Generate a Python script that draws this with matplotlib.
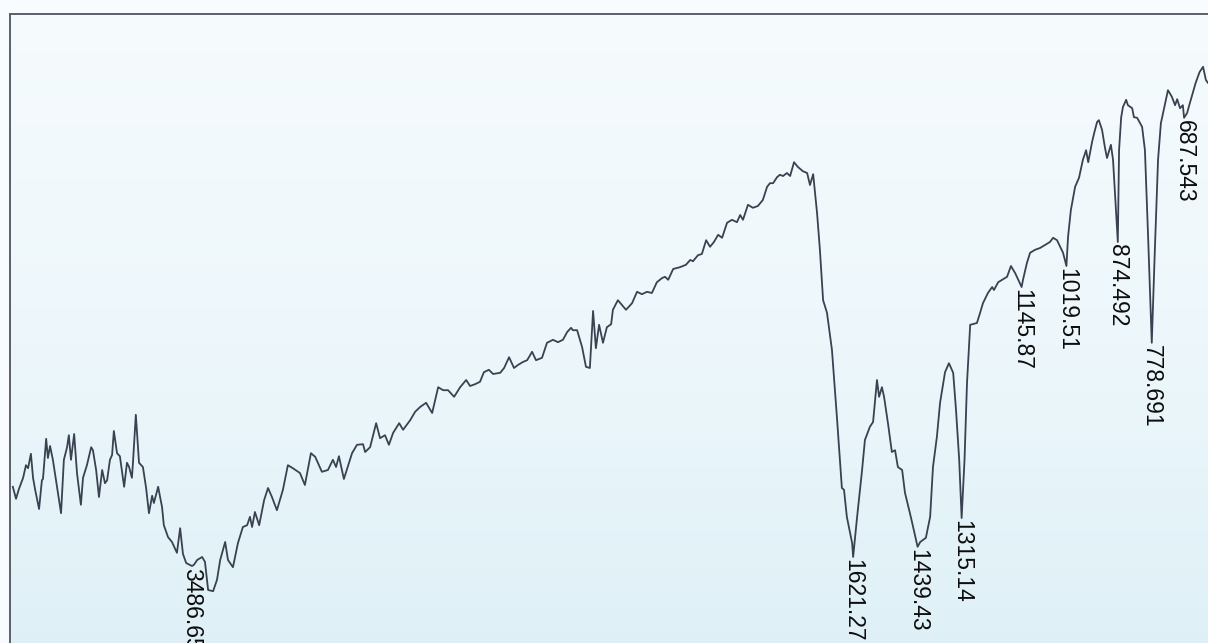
import numpy as np
import matplotlib
matplotlib.use('Agg')
import matplotlib.pyplot as plt
from matplotlib.colors import LinearSegmentedColormap

# IR spectrum: wavenumber (cm-1) and transmittance (%)
wavenumber = [
    3992, 3983, 3975, 3963, 3955, 3949, 3941, 3935, 3929, 3918, 3910, 3907,
    3898, 3893, 3887, 3879, 3867, 3856, 3848, 3839, 3834, 3828, 3819, 3811,
    3800, 3794, 3783, 3771, 3766, 3757, 3749, 3740, 3732, 3726, 3718, 3712,
    3707, 3698, 3690, 3678, 3670, 3664, 3656, 3653, 3645, 3636, 3625, 3616,
    3608, 3599, 3594, 3582, 3571, 3566, 3554, 3543, 3529, 3520, 3512, 3503,
    3486.65, 3481, 3472, 3458, 3450, 3441, 3427, 3416, 3407, 3393, 3385, 3371,
    3357, 3343, 3331, 3323, 3317, 3309, 3297, 3283, 3272, 3261, 3247, 3230,
    3216, 3202, 3182, 3168, 3151, 3139, 3120, 3103, 3089, 3080, 3072, 3058,
    3035, 3021, 3004, 2998, 2984, 2967, 2956, 2942, 2931, 2919, 2902, 2891,
    2871, 2857, 2843, 2826, 2809, 2792, 2778, 2764, 2747, 2730, 2713, 2702,
    2688, 2674, 2663, 2649, 2637, 2617, 2606, 2592, 2578, 2567, 2553, 2541,
    2527, 2516, 2499, 2485, 2468, 2454, 2440, 2428, 2417, 2412, 2400, 2386,
    2375, 2364, 2355, 2347, 2338, 2327, 2316, 2304, 2299, 2285, 2262, 2245,
    2231, 2217, 2203, 2189, 2175, 2160, 2152, 2143, 2129, 2110, 2093, 2081,
    2073, 2059, 2048, 2036, 2025, 2014, 2002, 1991, 1977, 1963, 1949, 1940,
    1932, 1918, 1904, 1890, 1876, 1864, 1856, 1847, 1836, 1828, 1819, 1808,
    1799, 1788, 1777, 1763, 1751, 1743, 1734, 1723, 1715, 1706, 1695, 1681,
    1667, 1653, 1647, 1639, 1624, 1621.27, 1610, 1596, 1588, 1574, 1565, 1560,
    1554, 1548, 1540, 1534, 1523, 1512, 1503, 1495, 1483, 1475, 1461, 1452,
    1439.43, 1432, 1416, 1404, 1396, 1385, 1376, 1362, 1351, 1339, 1331, 1322,
    1315.14, 1307, 1300, 1291, 1272, 1263, 1255, 1241, 1229, 1224, 1212, 1201,
    1187, 1176, 1164, 1145.87, 1142, 1131, 1122, 1108, 1094, 1080, 1066, 1057,
    1046, 1037, 1029, 1019.51, 1015, 1007, 995, 984, 973, 964, 958, 947,
    941, 933, 928, 919, 911, 905, 894, 888, 874.492, 871, 865, 860,
    851, 846, 834, 829, 820, 806, 798, 789, 778.691, 770, 761, 753,
    744, 733, 722, 713, 707, 699, 691, 687.543, 679, 671, 655, 644,
    634, 626, 620, 610,
]
transmittance = [
    21.2, 19.2, 20.8, 22.7, 24.8, 24.3, 26.7, 22.7, 20.7, 17.5, 22.3, 22.5,
    29.2, 26.0, 28.0, 25.7, 21.0, 16.8, 25.7, 27.8, 29.8, 25.7, 30.0, 23.5,
    18.2, 22.7, 24.8, 27.8, 27.3, 24.0, 19.5, 24.0, 21.8, 22.3, 25.7, 26.5,
    30.5, 26.8, 26.3, 21.2, 25.2, 24.5, 22.7, 25.3, 33.2, 25.2, 24.5, 21.0,
    16.8, 19.7, 18.5, 21.2, 17.8, 14.8, 12.8, 12.0, 10.2, 14.3, 10.0, 8.5,
    8.0, 8.2, 9.0, 9.5, 8.7, 4.0, 3.8, 5.7, 9.0, 12.0, 9.0, 7.8,
    11.8, 14.5, 14.8, 16.2, 14.5, 17.0, 14.8, 19.0, 21.0, 19.5, 17.3, 20.7,
    24.8, 24.3, 23.5, 21.5, 26.8, 26.2, 23.7, 24.0, 25.7, 24.5, 26.3, 22.5,
    26.8, 28.2, 28.3, 27.0, 27.8, 31.8, 29.3, 29.8, 28.2, 30.2, 31.8, 30.7,
    32.3, 33.7, 34.5, 35.2, 33.5, 37.8, 37.3, 37.3, 36.2, 37.8, 39.0, 38.0,
    38.3, 38.7, 40.3, 40.7, 40.0, 40.2, 41.0, 42.8, 41.0, 41.5, 42.0, 42.3,
    43.7, 42.3, 42.7, 45.2, 45.7, 45.3, 45.7, 47.0, 47.7, 47.3, 47.3, 44.5,
    41.2, 41.0, 50.5, 44.3, 48.2, 45.2, 47.8, 48.3, 50.7, 52.3, 50.7, 51.8,
    53.7, 53.3, 53.7, 53.5, 55.3, 56.0, 56.2, 55.7, 57.5, 57.8, 58.2, 59.0,
    58.8, 59.8, 60.0, 62.3, 61.2, 62.0, 63.2, 62.7, 65.2, 65.7, 65.3, 66.5,
    65.7, 68.2, 67.7, 68.0, 69.0, 71.2, 71.8, 71.8, 72.8, 73.2, 73.0, 73.5,
    73.0, 75.3, 74.5, 73.8, 73.5, 71.5, 73.3, 66.8, 60.7, 52.3, 50.2, 44.0,
    32.8, 21.0, 20.7, 16.2, 11.8, 9.5, 16.2, 24.0, 29.0, 31.2, 32.0, 35.2,
    39.0, 36.2, 37.8, 36.2, 31.8, 27.0, 27.3, 24.5, 24.0, 20.2, 16.8, 14.5,
    11.2, 12.0, 12.7, 16.2, 24.5, 29.5, 35.2, 40.3, 41.8, 40.2, 34.0, 25.7,
    16.0, 25.7, 38.5, 48.2, 48.5, 50.2, 51.8, 53.5, 54.5, 54.0, 55.3, 55.7,
    56.2, 58.0, 56.8, 54.5, 55.7, 58.5, 60.2, 60.7, 61.0, 61.5, 62.0, 62.7,
    62.3, 61.2, 60.2, 58.0, 62.8, 67.3, 71.2, 72.7, 75.7, 77.3, 75.3, 78.7,
    80.2, 82.0, 82.3, 80.7, 77.8, 76.0, 78.2, 75.7, 62.0, 77.3, 82.8, 84.5,
    85.7, 84.8, 84.3, 82.8, 82.7, 81.2, 77.3, 62.8, 45.2, 60.7, 75.7, 81.8,
    84.3, 87.3, 86.2, 84.8, 85.8, 84.3, 84.8, 82.7, 83.5, 85.2, 88.5, 90.3,
    91.2, 89.0, 88.5, 88.2,
]

# marked absorption bands
peaks = [3486.65, 1621.27, 1439.43, 1315.14, 1145.87, 1019.51, 874.492, 778.691, 687.543]

W = 1208 / 100
H = 643 / 100
fig = plt.figure(figsize=(W, H), dpi=100)
fig.patch.set_facecolor('#f8fcfe')

# frame starts near the top-left corner and runs past the page edge
ax = fig.add_axes([10 / 1208, 1 - 14 / 643 - 660 / 643, 1276 / 1208, 660 / 643])

# pale paper tint, slightly bluer towards the bottom
paper = LinearSegmentedColormap.from_list('paper', ['#ddf0f6', '#edf7fb', '#f6fbfd'])
ax.imshow(np.linspace(0, 1, 256).reshape(-1, 1), cmap=paper, aspect='auto',
          extent=[4000, 400, -10, 100], origin='lower', zorder=0)

ax.plot(wavenumber, transmittance, color='#3a4150', linewidth=1.3, zorder=2)

x_up = np.array(wavenumber)[::-1]
y_up = np.array(transmittance)[::-1]
for p in peaks:
    ax.text(p, np.interp(p, x_up, y_up) - 0.3, f'{p:g}', rotation=270,
            ha='center', va='top', fontsize=16.5, family='Liberation Sans',
            color='#0d0d0d', zorder=3)

ax.set_xlim(4000, 400)
ax.set_ylim(-10, 100)
ax.set_xticks([])
ax.set_yticks([])
for side in ['left', 'top']:
    ax.spines[side].set_color('#5a606c')
    ax.spines[side].set_linewidth(1.4)

fig.savefig('out.png', dpi=100, facecolor=fig.get_facecolor())
